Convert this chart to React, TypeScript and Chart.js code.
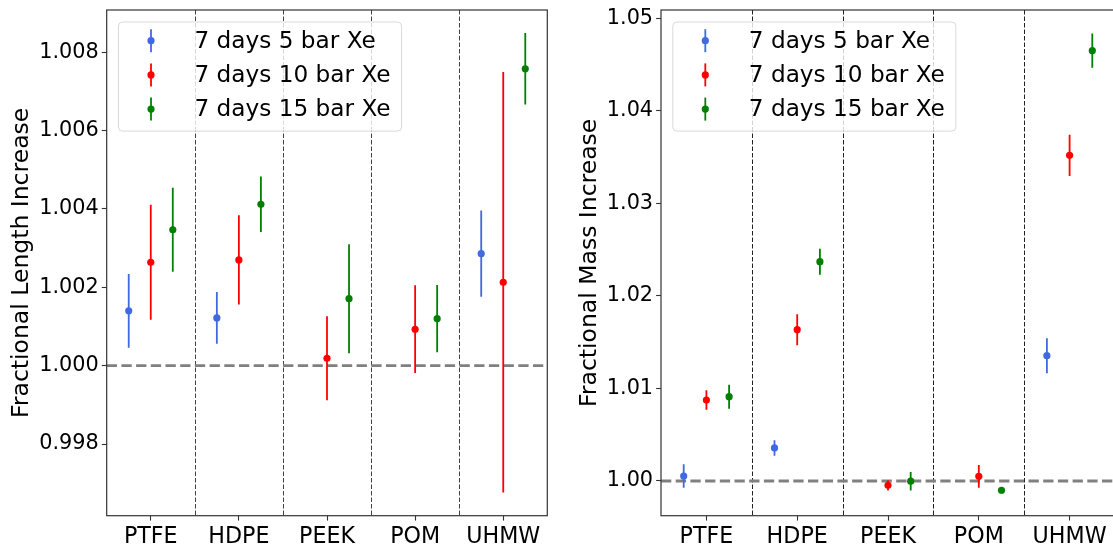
import React, { useEffect, useRef } from 'react';
import { Chart, registerables } from 'chart.js';

Chart.register(...registerables);

const categories = ['PTFE', 'HDPE', 'PEEK', 'POM', 'UHMW'];
const seriesLabels = ['7 days 5 bar Xe', '7 days 10 bar Xe', '7 days 15 bar Xe'];

// Fractional length increase
const length5 = [1.0014, 1.00122, null, null, 1.00286];
const length5Err = [0.00094, 0.00066, null, null, 0.0011];
const length10 = [1.00264, 1.0027, 1.00019, 1.00093, 1.00213];
const length10Err = [0.00147, 0.00114, 0.00107, 0.00112, 0.00537];
const length15 = [1.00347, 1.00412, 1.00171, 1.0012, 1.00758];
const length15Err = [0.00107, 0.00071, 0.00139, 0.00086, 0.00091];

// Fractional mass increase
const mass5 = [1.00054, 1.00357, null, null, 1.01354];
const mass5Err = [0.00126, 0.00083, null, null, 0.0019];
const mass10 = [1.00875, 1.01635, 0.99953, 1.00051, 1.0352];
const mass10Err = [0.00105, 0.00167, 0.00055, 0.00123, 0.00223];
const mass15 = [1.00911, 1.0237, 0.99998, 0.999, 1.0465];
const mass15Err = [0.0013, 0.0014, 0.001, 0.0002, 0.00185];

const lengthTicks = [0.998, 1.0, 1.002, 1.004, 1.006, 1.008];
const massTicks = [1.0, 1.01, 1.02, 1.03, 1.04, 1.05];
const dividerPositions = [0.5, 1.5, 2.5, 3.5];
const referenceValue = 1.0;

// styles
const seriesColors = ['#4169e1', '#ff0000', '#008000'];
const seriesOffsets = [-0.25, 0, 0.25];
const FONT = '"DejaVu Sans", sans-serif';

type Panel = {
  values: (number | null)[][];
  errors: (number | null)[][];
  yMin: number;
  yMax: number;
  ticks: number[];
  decimals: number;
  title: string;
  yAxisWidth: number;
  padRight: number;
  titlePad: number;
  left: number;
  dividerColor: string;
};

const panels: Panel[] = [
  {
    values: [length5, length10, length15],
    errors: [length5Err, length10Err, length15Err],
    yMin: 0.99617,
    yMax: 1.00908,
    ticks: lengthTicks,
    decimals: 3,
    title: 'Fractional Length Increase',
    yAxisWidth: 106.7,
    padRight: 12.7,
    titlePad: 8,
    left: 0,
    dividerColor: '#444',
  },
  {
    values: [mass5, mass10, mass15],
    errors: [mass5Err, mass10Err, mass15Err],
    yMin: 0.99625,
    yMax: 1.0509,
    ticks: massTicks,
    decimals: 2,
    title: 'Fractional Mass Increase',
    yAxisWidth: 101,
    padRight: 5,
    titlePad: 16,
    left: 560,
    dividerColor: '#222',
  },
];

const decorPlugin = {
  id: 'decor',
  beforeDatasetsDraw(chart: any, _args: any, opts: any) {
    const { ctx, chartArea: a, scales } = chart;
    const xs = scales.x;
    const ys = scales.y;
    ctx.save();
    ctx.beginPath();
    ctx.rect(a.left, a.top, a.right - a.left, a.bottom - a.top);
    ctx.clip();
    // category dividers
    ctx.strokeStyle = opts.dividerColor || '#222';
    ctx.lineWidth = 1;
    ctx.setLineDash([4.5, 2]);
    dividerPositions.forEach((p) => {
      const x = Math.round(xs.getPixelForValue(p)) + 0.5;
      ctx.beginPath();
      ctx.moveTo(x, a.top);
      ctx.lineTo(x, a.bottom);
      ctx.stroke();
    });
    // reference line
    const yr = ys.getPixelForValue(referenceValue);
    ctx.strokeStyle = '#808080';
    ctx.lineWidth = 2.8;
    ctx.setLineDash([10.3, 4.4]);
    ctx.beginPath();
    ctx.moveTo(a.left, yr);
    ctx.lineTo(a.right, yr);
    ctx.stroke();
    ctx.setLineDash([]);
    // error bars
    chart.data.datasets.forEach((ds: any, di: number) => {
      const meta = chart.getDatasetMeta(di);
      ctx.strokeStyle = ds.backgroundColor;
      ctx.lineWidth = 1.8;
      meta.data.forEach((el: any, i: number) => {
        const raw = ds.data[i];
        const y1 = ys.getPixelForValue(raw.y + raw.err);
        const y2 = ys.getPixelForValue(raw.y - raw.err);
        ctx.beginPath();
        ctx.moveTo(el.x, y1);
        ctx.lineTo(el.x, y2);
        ctx.stroke();
      });
    });
    ctx.restore();
  },
  afterDraw(chart: any) {
    const { ctx, chartArea: a } = chart;
    ctx.save();
    // spines
    ctx.strokeStyle = '#333';
    ctx.lineWidth = 1.2;
    ctx.strokeRect(a.left, a.top, a.right - a.left, a.bottom - a.top);
    // legend
    const fontSize = 23.2;
    ctx.font = `${fontSize}px ${FONT}`;
    const widths = chart.data.datasets.map((d: any) => ctx.measureText(d.label).width);
    const maxW = Math.max(...widths);
    const bx = a.left + 11.8;
    const by = a.top + 12;
    const bw = 76 + maxW + 11;
    const rowH = 34.2;
    const bh = rowH * 3 + 6.5;
    ctx.beginPath();
    ctx.roundRect(bx, by, bw, bh, 4);
    ctx.fillStyle = 'rgba(255,255,255,0.8)';
    ctx.fill();
    ctx.strokeStyle = '#d9d9d9';
    ctx.lineWidth = 1;
    ctx.stroke();
    chart.data.datasets.forEach((d: any, i: number) => {
      const cy = by + 18.7 + i * rowH;
      const mx = bx + 32.5;
      ctx.strokeStyle = d.backgroundColor;
      ctx.lineWidth = 1.8;
      ctx.beginPath();
      ctx.moveTo(mx, cy - 11.5);
      ctx.lineTo(mx, cy + 11.5);
      ctx.stroke();
      ctx.fillStyle = d.backgroundColor;
      ctx.beginPath();
      ctx.arc(mx, cy, 3.6, 0, Math.PI * 2);
      ctx.fill();
      ctx.fillStyle = '#000';
      ctx.textBaseline = 'middle';
      ctx.textAlign = 'left';
      ctx.fillText(d.label, bx + 76, cy + 1);
    });
    ctx.restore();
  },
};

function PanelChart({ panel }: { panel: Panel }) {
  const ref = useRef<HTMLCanvasElement | null>(null);
  useEffect(() => {
    if (!ref.current) return;
    const datasets = seriesLabels.map((label, s) => ({
      label,
      backgroundColor: seriesColors[s],
      borderColor: seriesColors[s],
      borderWidth: 0,
      pointRadius: 3.6,
      pointHoverRadius: 3.6,
      data: categories
        .map((_, i) =>
          panel.values[s][i] == null
            ? null
            : { x: i + seriesOffsets[s], y: panel.values[s][i], err: panel.errors[s][i] }
        )
        .filter((p) => p !== null),
    }));
    const chart = new Chart(ref.current, {
      type: 'scatter',
      data: { datasets: datasets as any },
      options: {
        animation: false,
        responsive: false,
        maintainAspectRatio: false,
        events: [],
        layout: { padding: { left: 0, top: 10, right: panel.padRight, bottom: 0 } },
        plugins: {
          legend: { display: false },
          tooltip: { enabled: false },
          decor: { dividerColor: panel.dividerColor },
        } as any,
        scales: {
          x: {
            type: 'linear',
            min: -0.5,
            max: 4.5,
            afterBuildTicks: (s: any) => {
              s.ticks = categories.map((_, i) => ({ value: i }));
            },
            afterFit: (s: any) => {
              s.height = 29.3;
              s.paddingLeft = 0;
              s.paddingRight = 0;
            },
            ticks: {
              autoSkip: false,
              maxRotation: 0,
              padding: 3,
              color: '#000',
              font: { family: FONT, size: 22.2 },
              callback: (v: any) => categories[Math.round(Number(v))] ?? '',
            },
            grid: {
              display: true,
              drawOnChartArea: false,
              drawTicks: true,
              tickLength: 4.9,
              tickColor: '#333',
              tickWidth: 1.1,
            },
            border: { display: false },
          },
          y: {
            type: 'linear',
            min: panel.yMin,
            max: panel.yMax,
            afterBuildTicks: (s: any) => {
              s.ticks = panel.ticks.map((v) => ({ value: v }));
            },
            afterFit: (s: any) => {
              s.width = panel.yAxisWidth;
              s.paddingTop = 0;
              s.paddingBottom = 0;
            },
            ticks: {
              padding: 3,
              color: '#000',
              font: { family: FONT, size: 20.8 },
              callback: (v: any) => Number(v).toFixed(panel.decimals),
            },
            title: {
              display: true,
              text: panel.title,
              color: '#000',
              font: { family: FONT, size: 23.5 },
              padding: { top: panel.titlePad, bottom: 0 },
            },
            grid: {
              display: true,
              drawOnChartArea: false,
              drawTicks: true,
              tickLength: 4.9,
              tickColor: '#333',
              tickWidth: 1.1,
            },
            border: { display: false },
          },
        },
      },
      plugins: [decorPlugin],
    });
    return () => chart.destroy();
  }, [panel]);
  return (
    <canvas
      ref={ref}
      width={560}
      height={545}
      style={{ position: 'absolute', left: panel.left, top: 0, width: 560, height: 545 }}
    />
  );
}

export default function App() {
  return (
    <div
      style={{
        position: 'fixed',
        left: 0,
        top: 0,
        width: 1113,
        height: 545,
        overflow: 'hidden',
        background: '#fff',
      }}
    >
      {panels.map((p, i) => (
        <PanelChart key={i} panel={p} />
      ))}
    </div>
  );
}
